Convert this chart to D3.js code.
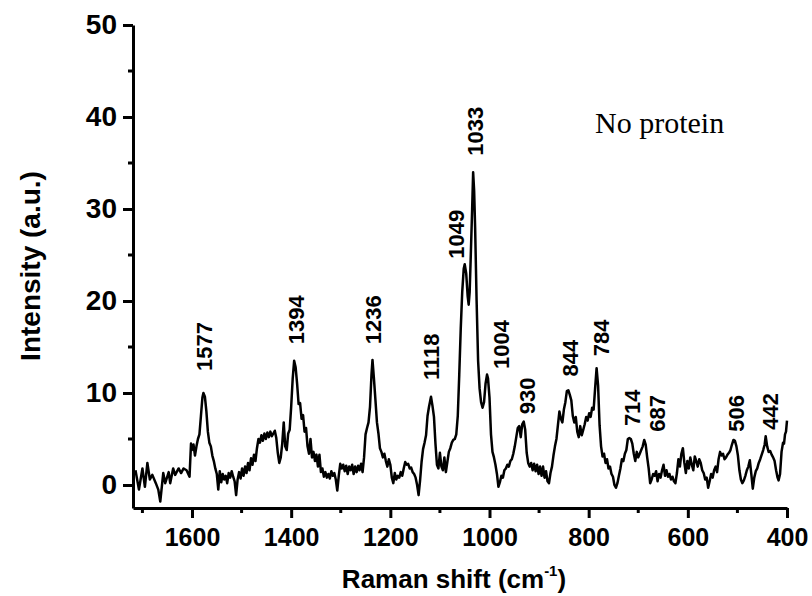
<!DOCTYPE html>
<html>
<head>
<meta charset="utf-8">
<script src="https://cdn.jsdelivr.net/npm/d3@7"></script>
<style>
  html, body { margin: 0; padding: 0; background: #fff; }
  svg { display: block; }
</style>
</head>
<body>
<svg id="chart" width="812" height="596"></svg>
<script>
// ---- data ----
const ramanShift = [
  1714,1707,1700,1695,1690,1685,1680,1673,1668,1664,1658,1654,1647,1644,1638,1634,1627,1622,1617,1611,1605,1602,
  1600,1597,1594,1591,1588,1585,1582,1579,1577,1574,1571,1568,1565,1562,1559,1556,1553,1550,1547,1544,1541,1538,1535,1532,1529,1526,1523,1520,1517,1514,1511,1508,1505,1502,1499,1496,1493,1490,1487,1484,1481,1478,1475,1472,1469,1466,1463,1460,1457,1454,1451,1448,1445,1442,1439,1436,1433,1430,1427,1424,1421,1418,1415,1412,1409,1406,1403,1400,1397,1394,1391,1388,1385,1382,1379,1376,1373,1370,1367,1364,1361,1358,1355,1352,1349,1346,1343,1340,1337,1334,1331,1328,1325,1322,1319,1316,1313,1310,1307,1304,1301,1298,1295,1292,1289,1286,1283,1280,1277,1274,1271,1268,1265,1262,1259,1256,1253,1250,1247,1244,1241,1238,1236,1233,1230,1227,1224,1221,1218,1215,1212,1209,1206,1203,1200,1197,1194,1191,1188,1185,1182,1179,1176,1173,1170,1167,1164,1161,1158,1155,1152,1149,1146,1143,1140,1137,1134,1131,1128,1125,1122,1118,1115,1112,1109,1106,1103,1100,1097,1094,1091,1088,1085,1082,1079,1076,1073,1070,1067,1064,1061,1058,1055,1052,1050,1047,1044,1042,1040,1038,1035,1033,1031,1029,1026,1023,1020,1017,1014,1011,1008,1005,1003,1000,997,994,991,988,985,982,979,976,973,970,967,964,961,958,955,952,949,946,943,940,937,934,931,928,925,922,919,916,913,910,907,904,901,898,895,892,889,886,883,880,877,874,871,868,865,862,859,856,853,850,847,844,841,838,835,832,829,826,823,820,817,814,811,808,805,802,799,796,793,790,787,784,781,778,775,772,769,766,763,760,757,754,751,748,745,742,739,736,733,730,727,724,721,718,715,712,709,706,703,700,697,694,691,688,685,682,679,676,673,670,667,664,661,658,655,652,649,646,643,640,637,634,631,628,625,622,619,616,613,610,607,604,601,598,595,592,589,586,583,580,577,574,571,568,565,562,559,556,553,550,547,544,541,538,535,532,529,526,523,520,517,514,511,508,505,502,499,496,493,490,487,484,481,478,475,472,469,466,463,460,457,454,451,448,445,443,440,437,434,431,428,425,422,419,417,414,411,408,406,404,402,400
];
const intensity = [
  1.6,-0.5,1.8,-0.2,2.4,0.6,1.1,0.2,-0.5,-1.8,1.3,0.2,1.4,0.2,1.8,1.1,1.8,1.3,1.8,1.6,0.9,4.5,
  3.8,4.4,3.2,4.2,5.0,5.5,7.5,9.5,10.0,9.6,8.0,5.8,4.6,4.2,3.2,2.6,1.8,1.2,-0.5,1.5,0.3,1.2,0.6,1.0,0.2,1.3,0.8,1.5,0.9,0.4,-1.1,0.6,1.4,0.7,1.8,1.0,2.0,1.3,2.4,1.6,2.9,2.2,3.3,2.6,4.0,5.0,4.6,5.4,4.8,5.6,5.0,5.7,5.2,5.8,5.3,5.6,5.9,5.1,3.5,2.4,3.0,4.5,6.8,4.2,3.8,5.6,6.0,8.5,11.5,13.5,12.8,11.0,8.8,8.9,7.2,7.6,5.8,6.2,4.2,3.4,5.0,3.0,3.6,2.6,3.3,2.0,3.3,1.4,1.8,0.9,1.4,0.8,1.2,0.7,1.5,1.0,1.3,0.6,-0.6,1.0,2.3,1.8,2.2,1.5,2.1,1.2,2.0,1.6,2.2,1.2,2.0,1.4,2.1,1.6,2.3,1.4,3.0,5.5,6.2,6.8,8.5,12.0,13.6,11.5,9.2,6.8,5.6,4.0,3.6,3.0,3.4,2.6,2.0,2.8,2.2,0.8,0.2,1.3,0.6,1.0,0.8,1.4,1.0,1.8,2.5,2.2,2.3,1.8,1.9,1.4,1.2,0.8,0.0,-1.1,0.5,2.5,3.9,4.6,5.4,7.5,8.5,9.6,8.6,7.4,4.5,2.2,1.8,3.5,2.0,1.6,3.0,1.4,2.5,3.6,4.0,4.6,4.9,5.0,5.5,7.5,12.0,17.0,21.0,23.5,24.0,23.0,20.5,19.6,21.0,24.5,30.0,34.0,32.0,28.0,20.0,13.5,10.5,9.0,8.4,9.0,11.0,12.0,11.6,9.5,5.5,3.6,3.0,2.2,1.2,-0.2,0.3,1.0,0.8,1.6,1.8,2.2,2.0,2.6,2.8,3.4,4.2,5.2,6.2,6.4,5.2,6.6,6.9,6.0,3.5,2.4,2.0,2.4,1.6,2.3,1.5,2.2,1.2,2.0,1.0,2.0,0.8,1.5,0.4,0.2,1.3,2.0,3.2,4.2,5.0,6.5,8.0,7.2,6.8,8.2,9.0,10.2,10.3,9.8,9.2,7.5,6.8,7.4,5.8,5.2,6.4,5.4,6.0,6.6,7.4,7.0,7.8,7.4,8.4,8.2,10.5,12.7,10.8,6.5,4.2,3.1,3.4,2.4,2.8,1.8,2.0,1.2,0.9,0.0,-0.3,0.2,1.0,1.8,2.8,2.6,3.4,3.8,5.0,5.1,5.0,4.5,3.4,2.6,3.6,3.0,3.4,3.8,4.2,4.9,4.4,3.0,1.8,0.2,0.6,1.2,1.0,1.5,0.4,1.2,0.8,1.6,2.2,1.0,1.6,0.9,1.2,0.6,0.9,0.4,0.2,1.3,2.8,2.0,3.4,4.0,2.4,1.3,2.6,1.8,3.0,2.2,1.6,3.1,2.6,2.0,2.8,2.4,1.6,1.3,0.6,0.8,-0.3,0.4,1.2,0.8,1.6,2.0,1.4,2.8,3.6,3.2,3.4,2.8,3.0,3.3,3.5,3.8,4.4,4.9,4.8,4.2,3.2,1.6,0.6,0.2,0.5,1.0,1.6,2.0,2.7,1.2,-0.4,0.8,1.5,1.8,2.4,2.8,3.3,3.8,4.4,5.3,4.2,3.6,3.7,3.3,3.0,2.6,1.6,0.8,0.5,1.2,3.6,4.6,4.5,5.5,5.8,7.0
];
const xTickValues = [1600, 1400, 1200, 1000, 800, 600, 400];
const xMinorTicks = [1700, 1500, 1300, 1100, 900, 700, 500];
const yTickValues = [0, 10, 20, 30, 40, 50];
const yMinorTicks = [5, 15, 25, 35, 45];
const peakLabels = ["1577","1394","1236","1118","1049","1033","1004","930","844","784","714","687","506","442"];
const peakLabelShift = [1576,1390,1234,1117,1067,1029,976,924,837,775,712,662,503,434];
const peakLabelBase = [12.4,15.3,15.3,11.4,24.6,35.8,12.6,7.7,11.8,14.0,6.4,5.8,5.8,6.0];
const annotationText = "No protein";
const xTitle = "Raman shift (cm";
const xTitleSup = "-1";
const yTitle = "Intensity (a.u.)";

// ---- drawing ----
const svg = d3.select("#chart");
const x = d3.scaleLinear().domain([1719, 400]).range([133, 787]);
const y = d3.scaleLinear().domain([-2.5, 50]).range([508, 25]);
const sans = "'Liberation Sans', Arial, sans-serif";

// spectrum
const pts = ramanShift.map((s, i) => [s, intensity[i]]);
svg.append("path")
  .datum(pts)
  .attr("fill", "none")
  .attr("stroke", "#000")
  .attr("stroke-width", 2.5)
  .attr("stroke-linejoin", "round")
  .attr("d", d3.line().x(d => x(d[0])).y(d => y(d[1])));

// axes
const gx = svg.append("g").attr("transform", "translate(0,508)")
  .call(d3.axisBottom(x).tickValues(xTickValues).tickFormat(d3.format("d"))
    .tickSize(10).tickSizeOuter(0).tickPadding(10));
gx.append("g").selectAll("line").data(xMinorTicks).join("line")
  .attr("x1", d => x(d)).attr("x2", d => x(d)).attr("y1", 0).attr("y2", 5);
const gy = svg.append("g").attr("transform", "translate(133,0)")
  .call(d3.axisLeft(y).tickValues(yTickValues).tickFormat(d3.format("d"))
    .tickSize(10).tickSizeOuter(0).tickPadding(6));
gy.append("g").selectAll("line").data(yMinorTicks).join("line")
  .attr("x1", 0).attr("x2", -5).attr("y1", d => y(d)).attr("y2", d => y(d));

[gx, gy].forEach(g => {
  g.selectAll("path.domain").attr("stroke", "#000").attr("stroke-width", 3);
  g.selectAll("line").attr("stroke", "#000").attr("stroke-width", 3);
});
gx.selectAll(".tick text").attr("font-family", sans).attr("font-weight", "bold")
  .attr("font-size", 25).attr("fill", "#000");
gy.selectAll(".tick text").attr("font-family", sans).attr("font-weight", "bold")
  .attr("font-size", 28).attr("fill", "#000");

// axis titles
const xt = svg.append("text")
  .attr("x", 454).attr("y", 588)
  .attr("text-anchor", "middle")
  .attr("font-family", sans).attr("font-weight", "bold").attr("font-size", 26);
xt.append("tspan").text(xTitle);
xt.append("tspan").attr("font-size", 15).attr("dy", -12).text(xTitleSup);
xt.append("tspan").attr("dy", 12).text(")");

svg.append("text")
  .attr("transform", "translate(40,266) rotate(-90)")
  .attr("text-anchor", "middle")
  .attr("font-family", sans).attr("font-weight", "bold").attr("font-size", 28)
  .text(yTitle);

// peak labels
svg.append("g").selectAll("text").data(peakLabels).join("text")
  .attr("transform", (d, i) => `translate(${x(peakLabelShift[i]) + 8},${y(peakLabelBase[i])}) rotate(-90)`)
  .attr("text-anchor", "start")
  .attr("font-family", sans).attr("font-weight", "bold").attr("font-size", 22)
  .text(d => d);

// annotation
svg.append("text")
  .attr("x", 595).attr("y", 133)
  .attr("font-family", "'Liberation Serif', 'Times New Roman', serif")
  .attr("font-size", 30)
  .text(annotationText);
</script>
</body>
</html>
